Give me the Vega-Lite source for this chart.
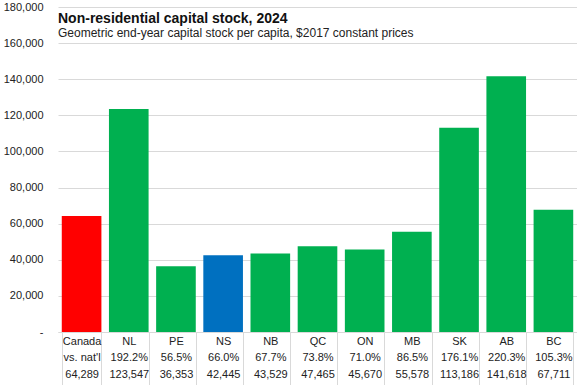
{
  "$schema": "https://vega.github.io/schema/vega-lite/v6.json",
  "width": 519,
  "height": 325,
  "autosize": {"type": "none"},
  "padding": {"left": 58, "top": 7, "right": 0, "bottom": 53},
  "background": "white",
  "config": {
    "font": "Liberation Sans",
    "view": {"stroke": null},
    "axis": {"labelFont": "Liberation Sans", "labelColor": "#222222", "labelFontSize": 11}
  },
  "title": {
    "text": "Non-residential capital stock, 2024",
    "subtitle": "Geometric end-year capital stock per capita, $2017 constant prices",
    "anchor": "start",
    "frame": "group",
    "orient": "top",
    "offset": -38,
    "font": "Liberation Sans",
    "fontSize": 14,
    "fontWeight": "bold",
    "color": "#111111",
    "subtitleFont": "Liberation Sans",
    "subtitleFontSize": 12,
    "subtitleColor": "#222222",
    "subtitlePadding": 2
  },
  "data": {
    "values": [
      {"region": "Canada", "pct": "vs. nat'l", "value": 64289, "group": "Canada"},
      {"region": "NL", "pct": "192.2%", "value": 123547, "group": "Province"},
      {"region": "PE", "pct": "56.5%", "value": 36353, "group": "Province"},
      {"region": "NS", "pct": "66.0%", "value": 42445, "group": "NS"},
      {"region": "NB", "pct": "67.7%", "value": 43529, "group": "Province"},
      {"region": "QC", "pct": "73.8%", "value": 47465, "group": "Province"},
      {"region": "ON", "pct": "71.0%", "value": 45670, "group": "Province"},
      {"region": "MB", "pct": "86.5%", "value": 55578, "group": "Province"},
      {"region": "SK", "pct": "176.1%", "value": 113186, "group": "Province"},
      {"region": "AB", "pct": "220.3%", "value": 141618, "group": "Province"},
      {"region": "BC", "pct": "105.3%", "value": 67711, "group": "Province"}
    ]
  },
  "transform": [
    {"calculate": "datum.region + '|' + datum.pct + '|' + format(datum.value, ',')", "as": "cat"}
  ],
  "mark": {"type": "bar"},
  "encoding": {
    "x": {
      "field": "cat",
      "type": "nominal",
      "sort": null,
      "scale": {"paddingInner": 0.16, "paddingOuter": 0.08},
      "axis": {
        "title": null,
        "labelAngle": 0,
        "labelExpr": "isString(datum.value) ? split(datum.value, '|') : ''",
        "labelLineHeight": 16.5,
        "labelBaseline": "top",
        "labelPadding": -50,
        "ticks": true,
        "tickBand": "extent",
        "tickSize": 53,
        "tickColor": "#d9d9d9",
        "tickWidth": 1,
        "domainColor": "#d9d9d9",
        "labelColor": "#222222",
        "labelFontSize": 11
      }
    },
    "y": {
      "field": "value",
      "type": "quantitative",
      "scale": {"domain": [0, 180000]},
      "axis": {
        "title": null,
        "values": [0, 20000, 40000, 60000, 80000, 100000, 120000, 140000, 160000, 180000],
        "labelExpr": "datum.value == 0 ? '-' : format(datum.value, ',')",
        "domain": false,
        "ticks": false,
        "labelPadding": 15,
        "gridColor": "#d9d9d9",
        "labelFontSize": 11
      }
    },
    "color": {
      "field": "group",
      "type": "nominal",
      "scale": {"domain": ["Canada", "NS", "Province"], "range": ["#ff0000", "#0070c0", "#00b050"]},
      "legend": null
    }
  }
}
